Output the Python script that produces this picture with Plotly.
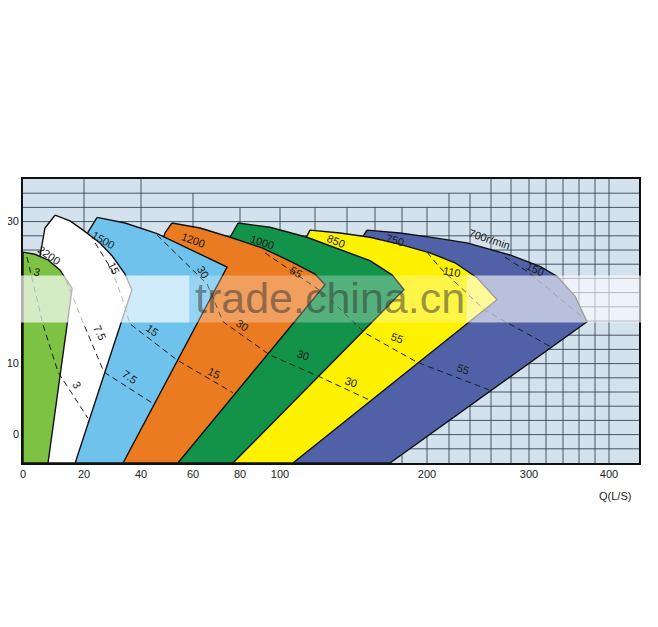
import numpy as np
import plotly.graph_objects as go

# ---- horizontal scale of the chart: flow Q (L/s) grid values and their positions on the axis ----
Q_GRID = [0, 20, 40, 60, 80, 100, 120, 140, 160, 180, 200, 220, 240, 260, 280, 300, 320, 340, 360, 380, 400, 440]
U_GRID = [0, 61, 118, 170, 217, 257, 292, 324, 352, 379, 404, 426, 447, 468, 488, 506, 523, 540, 556, 572, 586, 616]


def qx(q):
    return np.interp(np.asarray(q, dtype=float), Q_GRID, U_GRID)


X_TICKS = [0, 20, 40, 60, 80, 100, 200, 300, 400]
Y_TICKS = [0, 10, 30]
H_MIN, H_MAX = -4, 36

# grid lines (vertical lines reach different heights, as on the original sheet)
GRID_V_FULL = [20, 40, 260, 280, 300, 320, 340, 360, 380, 400]
GRID_V_34 = [60, 220, 240]
GRID_V_32 = [80, 100, 120, 140, 160, 180, 200]
GRID_H = list(range(-2, 36, 2))

# ---- operating regions: boundary Q (L/s) and H (m) ----
LG_Q = [0, 3.9, 8.2, 12.1, 16.1, 8.2, 0]
LG_H = [25.7, 25.4, 24.6, 23.2, 20.6, -4, -4]

WH_Q = [10.5, 15.4, 19.7, 25.6, 29.8, 34.4, 36.8, 17.1, 2.3, 3.9, 7.2]
WH_H = [30.9, 30.1, 28.8, 27.0, 25.2, 22.6, 20.4, -4, -4, 21.1, 29.1]

LB_Q = [24.6, 34.4, 46.2, 58.9, 74.5, 33.7, 13.8, 15.4, 21.4]
LB_H = [30.6, 29.8, 28.3, 26.1, 23.6, -4, -4, 19.0, 28.5]

OR_Q = [51.9, 63.0, 75.8, 91.0, 106.9, 120.0, 126.3, 54.2, 29.1, 43.5, 49.2]
OR_H = [29.8, 29.1, 27.8, 26.3, 24.3, 22.6, 21.1, -4, -4, 19.0, 28.4]

DG_Q = [79.2, 95.0, 115.4, 135.6, 156.4, 172.6, 181.6, 77.0, 47.3, 63.0, 75.8]
DG_H = [29.8, 29.2, 27.8, 26.1, 24.5, 22.5, 20.4, -4, -4, 19.0, 27.8]

YE_Q = [117.1, 135.6, 156.4, 178.5, 202.7, 225.7, 246.7, 266.0, 107.4, 67.2, 90.0, 114.8]
YE_H = [28.8, 28.4, 27.8, 26.8, 25.6, 24.2, 22.1, 19.0, -4, -4, 14.7, 27.5]

PU_Q = [154.3, 178.5, 207.3, 237.1, 279.0, 312.9, 332.9, 355.0, 370.0, 171.1, 90.0, 129.4, 150.7]
PU_H = [28.8, 28.4, 27.7, 27.0, 25.3, 23.7, 22.3, 19.5, 15.9, -4, -4, 19.0, 27.7]

# ---- motor power lines (kW), dashed ----
P3_Q = [1.3, 6.6, 11.5, 21.4]
P3_H = [25.0, 15.4, 8.8, 2.3]
P75_Q = [14.1, 19.4, 27.0, 45.0]
P75_H = [21.8, 16.1, 8.8, 4.3]
P15_Q = [23.9, 29.8, 34.0, 36.1, 53.9, 77.0]
P15_H = [27.0, 23.2, 18.5, 15.6, 10.5, 5.9]
P30_Q = [46.2, 66.0, 72.8, 95.0, 121.3, 157.9]
P30_H = [28.1, 21.2, 15.9, 11.2, 8.3, 4.7]
P55_Q = [92.5, 124.4, 152.9, 192.0, 258.1]
P55_H = [25.6, 20.1, 14.3, 10.2, 6.3]
P110_Q = [200.0, 211.8, 254.3, 328.2]
P110_H = [25.7, 23.5, 17.5, 12.2]
P150_Q = [274.0, 297.8, 363.8]
P150_H = [25.0, 23.0, 16.6]

# ---- in-chart labels ----
LABEL_TEXT = ["2200", "3", "1500", "15", "1200", "30", "1000", "55", "850", "750", "110",
              "700r/min", "150", "7.5", "15", "30", "3", "7.5", "15", "30", "30", "55", "55"]
LABEL_Q = [8.5, 4.6, 26.7, 30.5, 60.0, 64.3, 91.0, 109.1, 133.1, 174.8, 222.9,
           258.1, 307.1, 25.6, 44.2, 81.0, 17.7, 36.1, 68.9, 113.1, 142.9, 176.3, 233.3]
LABEL_H = [25.3, 22.9, 27.4, 23.5, 27.4, 22.9, 27.1, 22.9, 27.3, 27.4, 22.9,
           27.5, 23.3, 14.3, 14.7, 15.4, 7.0, 8.1, 8.7, 11.2, 7.4, 13.6, 9.2]
LABEL_ANGLE = [35, 15, 30, 65, 20, 60, 18, 30, 22, 15, 10,
               18, 25, 65, 35, 35, 60, 35, 25, 20, 20, 20, 20]

fig = go.Figure()

regions = [
    (PU_Q, PU_H, "#5061A8"),
    (YE_Q, YE_H, "#FFF200"),
    (DG_Q, DG_H, "#13934A"),
    (OR_Q, OR_H, "#EB7B20"),
    (LB_Q, LB_H, "#6EC2EC"),
    (WH_Q, WH_H, "#FFFFFF"),
    (LG_Q, LG_H, "#7EC244"),
]
for q, h, c in regions:
    qq = list(q) + [q[0]]
    hh = list(h) + [h[0]]
    fig.add_trace(go.Scatter(x=qx(qq), y=hh, mode="lines", fill="toself", fillcolor=c,
                             line=dict(color="#111111", width=1.4), hoverinfo="skip"))

for q, h in [(P3_Q, P3_H), (P75_Q, P75_H), (P15_Q, P15_H), (P30_Q, P30_H),
             (P55_Q, P55_H), (P110_Q, P110_H), (P150_Q, P150_H)]:
    fig.add_trace(go.Scatter(x=qx(q), y=h, mode="lines",
                             line=dict(color="#1a1a1a", width=1, dash="6px,4px"), hoverinfo="skip"))

shapes = []
grid_line = dict(color="rgba(45,62,78,0.85)", width=1)
for h in GRID_H:
    shapes.append(dict(type="line", xref="paper", yref="y", x0=0, x1=1, y0=h, y1=h,
                       line=grid_line, layer="below"))
for group, top in [(GRID_V_FULL, H_MAX), (GRID_V_34, 34), (GRID_V_32, 32)]:
    for q in group:
        u = float(qx(q))
        shapes.append(dict(type="line", xref="x", yref="y", x0=u, x1=u, y0=H_MIN, y1=top,
                           line=grid_line, layer="below"))
# watermark band (blurred, whitish)
for x0, x1, op in [(-0.025, 0.27, 0.68), (0.27, 0.72, 0.28), (0.72, 1.02, 0.6)]:
    shapes.append(dict(type="rect", xref="paper", yref="paper", x0=x0, x1=x1, y0=0.495, y1=0.66,
                       fillcolor="rgba(255,255,255,%s)" % op, line=dict(width=0), layer="above"))

annotations = []
for t, q, h, a in zip(LABEL_TEXT, LABEL_Q, LABEL_H, LABEL_ANGLE):
    annotations.append(dict(x=float(qx(q)), y=h, xref="x", yref="y", text=t, showarrow=False,
                            textangle=a, font=dict(family="Liberation Sans, Arial", size=11, color="#1a1a1a")))
annotations.append(dict(x=0.498, y=0.58, xref="paper", yref="paper", text="trade.china.cn",
                        showarrow=False, font=dict(family="Liberation Sans, Arial", size=43,
                                                    color="rgba(50,50,50,0.5)")))
annotations.append(dict(x=0.99, y=-0.116, xref="paper", yref="paper", text="Q(L/S)",
                        showarrow=False, xanchor="right", yanchor="middle",
                        font=dict(family="Liberation Sans, Arial", size=11, color="#222222")))

fig.update_layout(
    width=650, height=619,
    margin=dict(l=15, r=19, t=171, b=164, autoexpand=False),
    paper_bgcolor="white", plot_bgcolor="#D3E2ED",
    showlegend=False,
    shapes=shapes, annotations=annotations,
    xaxis=dict(range=[0, 616], tickvals=qx(X_TICKS).tolist(), ticktext=[str(v) for v in X_TICKS],
               showgrid=False, zeroline=False, showline=True, mirror=True, automargin=False,
               linecolor="#111111", linewidth=1.6, ticks="",
               tickfont=dict(family="Liberation Sans, Arial", size=11, color="#222222")),
    yaxis=dict(range=[H_MIN, H_MAX], tickvals=Y_TICKS, ticktext=[str(v) for v in Y_TICKS],
               showgrid=False, zeroline=False, showline=True, mirror=True, automargin=False,
               linecolor="#111111", linewidth=1.6, ticks="",
               tickfont=dict(family="Liberation Sans, Arial", size=11, color="#222222")),
)

fig.write_html("out.html")
